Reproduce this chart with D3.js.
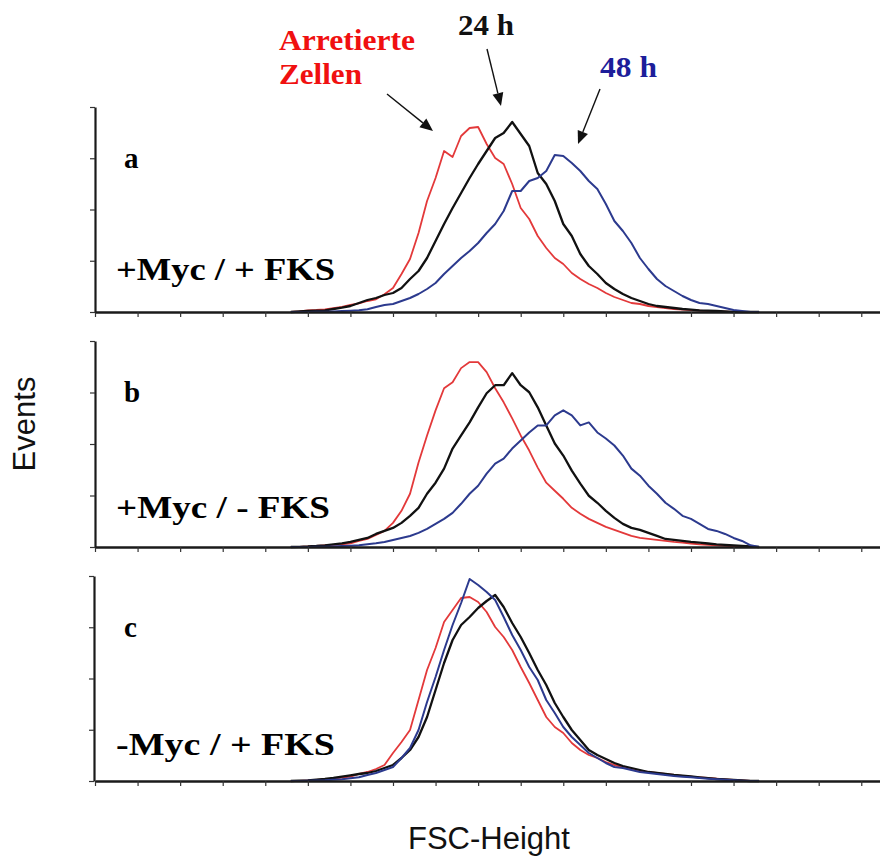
<!DOCTYPE html>
<html>
<head>
<meta charset="utf-8">
<script src="https://cdn.jsdelivr.net/npm/d3@7"></script>
<style>
  body { margin: 0; background: #fff; }
  svg { display: block; }
</style>
</head>
<body>
<script>
// FSC channels (tick every 10 units), sampled every 2 units
const channels = d3.range(46, 157, 2);

// Panel a: +Myc / + FKS
const redA   = [0,0.5,1.5,2,2.7,3.8,5,7,8.7,11,12.7,17.7,24,38,53,79,111,134,161,155,176,184,185,168,154,148,128,104,93,76,64,54,48,39,33,28,24,19,15,12,9,8,6,5,4,3,2.3,1.8,1.3,0.9,0.5,0.3,0,0,0,0];
const blackA = [0,0.5,1,1.3,1.7,3,4.3,6,9,12,14,17,19,24,33,41,54,71,88,104,119,134,148,161,174,179,190,178,166,139,128,111,88,76,58,46,38,29,23,18,14,11,8,6,5,4,3,2.3,1.7,1.3,1,0.5,0,0,0,0];
const blueA  = [0,0,0,0.2,0.3,0.6,1,1.3,1.7,2.7,5,7,8,11,14,18,23,29,38,46,54,61,69,79,88,101,121,121,131,134,141,157,156,149,141,131,123,108,91,81,69,54,43,33,26,21,16,12,9,8,6,4,2,1,0,0];

// Panel b: +Myc / - FKS
const redB   = [0,0.2,0.5,1,1.7,2.2,2.7,3.7,6,8,12,16,24,36,53,84,111,136,158,164,178,184,184,174,158,144,128,111,96,79,64,56,48,39,33,28,24,20,17,14,11,9,8,7,6,5,4.3,3.5,2.7,2.2,1.7,1.2,0.7,0.3,0,0];
const blackB = [0,0.2,0.5,1,1.7,2.7,3.7,5,7,9,13,16,19,24,31,39,53,64,78,98,111,124,139,153,161,161,173,161,154,139,121,103,91,76,63,51,44,36,29,23,19,17,14,11,8,7,6,5,4.3,3.5,2.7,2.2,1.7,1.2,0.7,0];
const blueB  = [0,0,0,0.2,0.3,0.6,1,1.3,1.7,2.7,3.7,5,7,9,11,14,18,23,28,34,43,53,61,73,83,88,98,106,114,121,121,131,136,131,121,124,114,108,101,91,78,71,61,53,44,38,31,28,23,18,16,13,9,6,1.7,0];

// Panel c: -Myc / + FKS
const redC   = [0,0.2,0.5,1,1.7,2.5,3.3,4.3,7,9,12,16,28,39,51,81,111,133,159,171,183,184,179,169,154,144,131,114,98,81,64,54,48,38,31,26,23,19,16,14,12,10,9,8,7,6,5,4.3,3.7,3,2.3,1.7,1,0.5,0,0];
const blackC = [0,0.3,0.7,1.3,2,3,4.3,5.7,7,8,10,13,16,23,31,44,64,91,118,141,156,164,173,180,186,174,158,144,128,111,96,78,64,51,41,31,26,22,18,15,13,11,9,8,7,6,5.3,4.5,3.7,2.8,2,1.5,1,0.5,0,0];
const blueC  = [0,0,0.2,0.4,0.7,1.2,1.7,2.7,3.7,6,8,11,14,23,33,51,79,104,131,156,178,202,196,189,181,164,146,131,114,101,81,68,54,44,36,28,23,18,14,13,11,9,8,7,6,5,4.3,3.7,3,2.3,1.7,1.2,0.7,0.3,0,0];

const xTicks = d3.range(0, 181, 10);
const yMax = 205;
const yTicks = d3.range(5).map(i => i * yMax / 4);

const panelLabels = ["a", "b", "c"];
const conditionLabels = ["+Myc / + FKS", "+Myc / - FKS", "-Myc / + FKS"];
const seriesNames = ["Arretierte", "Zellen", "24 h", "48 h"];

const colors = { red: "#e3393a", black: "#111111", blue: "#2c3a8e" };
const serif = "'Liberation Serif', 'Times New Roman', serif";
const sans = "'Liberation Sans', Arial, sans-serif";

const width = 880, height = 856;

const svg = d3.select("body").append("svg")
    .attr("width", width)
    .attr("height", height);

const x = d3.scaleLinear()
    .domain([0, 184.4])
    .range([95, 880]);

const panels = [
    { top: 107, bottom: 312, axisX: 95, letterY: 168, condY: 280, condW: 219, series: [redA, blackA, blueA] },
    { top: 341, bottom: 547, axisX: 95, letterY: 402, condY: 518, condW: 214, series: [redB, blackB, blueB] },
    { top: 576, bottom: 781, axisX: 94, letterY: 637, condY: 755, condW: 219, series: [redC, blackC, blueC] }
];

const lineColors = [colors.red, colors.black, colors.blue];
const lineWidths = [1.8, 2.3, 2.0];

panels.forEach((p, i) => {
    const y = d3.scaleLinear()
        .domain([0, yMax])
        .range([p.bottom, p.top]);

    const g = svg.append("g");

    // curves
    const line = d3.line()
        .x((d, j) => x(channels[j]))
        .y(d => y(d));

    p.series.forEach((vals, k) => {
        g.append("path")
            .datum(vals)
            .attr("fill", "none")
            .attr("stroke", lineColors[k])
            .attr("stroke-width", lineWidths[k])
            .attr("stroke-linejoin", "round")
            .attr("d", line);
    });

    // x axis
    const xa = g.append("g")
        .attr("transform", `translate(0,${p.bottom})`)
        .call(d3.axisBottom(x)
            .tickValues(xTicks)
            .tickSize(5)
            .tickSizeOuter(0)
            .tickFormat(""));
    xa.select(".domain").attr("stroke", "#1a1a1a").attr("stroke-width", 2.6);
    xa.selectAll(".tick line").attr("stroke", "#333").attr("stroke-width", 1.2);

    // y axis
    const ya = g.append("g")
        .attr("transform", `translate(${p.axisX},0)`)
        .call(d3.axisLeft(y)
            .tickValues(yTicks)
            .tickSize(5)
            .tickSizeOuter(0)
            .tickFormat(""));
    ya.select(".domain").attr("stroke", "#1a1a1a").attr("stroke-width", 2.2);
    ya.selectAll(".tick line").attr("stroke", "#333").attr("stroke-width", 1.2);

    // panel letter
    g.append("text")
        .attr("x", 124)
        .attr("y", p.letterY)
        .attr("font-family", serif)
        .attr("font-weight", "bold")
        .attr("font-size", "29px")
        .text(panelLabels[i]);

    // condition label
    g.append("text")
        .attr("x", 116)
        .attr("y", p.condY)
        .attr("font-family", serif)
        .attr("font-weight", "bold")
        .attr("font-size", "31px")
        .attr("textLength", p.condW)
        .attr("lengthAdjust", "spacingAndGlyphs")
        .text(conditionLabels[i]);
});

// series annotations on top of panel a
const notes = [
    { text: seriesNames[0], x: 279, y: 50, w: 136, fill: "#f01010" },
    { text: seriesNames[1], x: 279, y: 84, w: 83, fill: "#f01010" },
    { text: seriesNames[2], x: 458, y: 35, w: 56, fill: "#111" },
    { text: seriesNames[3], x: 600, y: 77, w: 57, fill: "#1d1d9a" }
];
notes.forEach(n => {
    svg.append("text")
        .attr("x", n.x).attr("y", n.y)
        .attr("font-family", serif).attr("font-weight", "bold")
        .attr("font-size", "30px").attr("fill", n.fill)
        .attr("textLength", n.w)
        .attr("lengthAdjust", "spacingAndGlyphs")
        .text(n.text);
});

// arrows
function arrow(x1, y1, x2, y2) {
    const ang = Math.atan2(y2 - y1, x2 - x1);
    const len = 13, half = 5.5;
    const bx = x2 - len * Math.cos(ang), by = y2 - len * Math.sin(ang);
    const px = -Math.sin(ang) * half, py = Math.cos(ang) * half;
    svg.append("line")
        .attr("x1", x1).attr("y1", y1)
        .attr("x2", bx).attr("y2", by)
        .attr("stroke", "#111").attr("stroke-width", 1.4);
    svg.append("path")
        .attr("d", `M${x2},${y2}L${bx + px},${by + py}L${bx - px},${by - py}Z`)
        .attr("fill", "#111");
}
arrow(387, 94, 433, 131);
arrow(487, 49, 501, 106);
arrow(600, 89, 578, 144);

// axis titles
svg.append("text")
    .attr("transform", "translate(35,424) rotate(-90)")
    .attr("text-anchor", "middle")
    .attr("font-family", sans)
    .attr("font-size", "31px")
    .attr("fill", "#111")
    .text("Events");

svg.append("text")
    .attr("x", 408)
    .attr("y", 849)
    .attr("font-family", sans)
    .attr("font-size", "31px")
    .attr("fill", "#111")
    .text("FSC-Height");
</script>
</body>
</html>
